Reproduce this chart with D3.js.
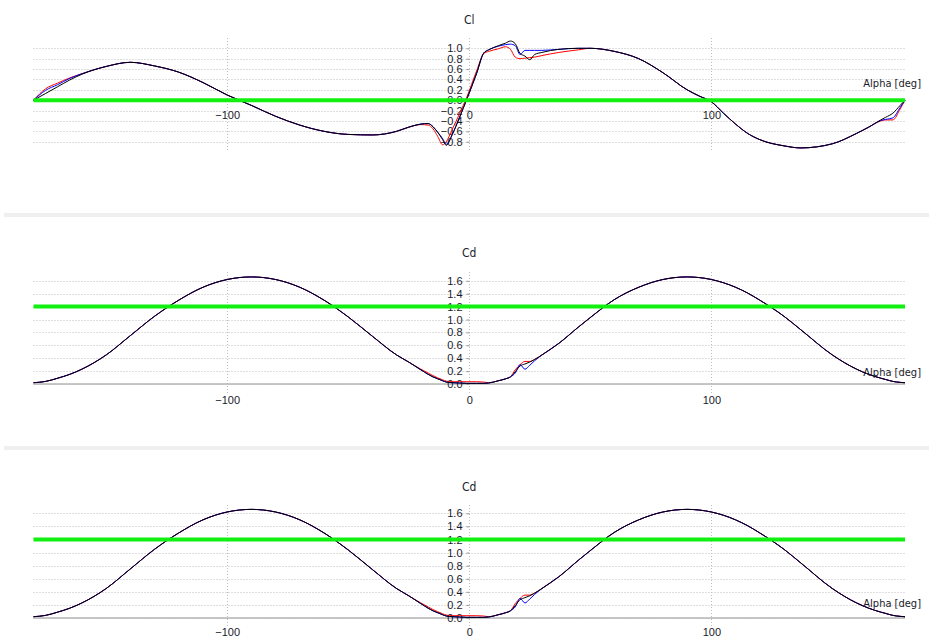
<!DOCTYPE html>
<html>
<head>
<meta charset="utf-8">
<script src="https://cdn.jsdelivr.net/npm/d3@7"></script>
<style>
    body { margin: 0; background: #fff; }
    svg { display: block; font-family: 'Liberation Sans Narrow', 'DejaVu Sans Condensed', 'Liberation Sans', sans-serif; }
</style>
</head>
<body>
<div id="d3-container"></div>
<script>
// angle of attack, deg
const alpha = [-180, -175, -170, -165, -160, -150, -140, -130, -120, -110,
    -100, -90, -80, -70, -60, -50, -40, -30, -25, -20,
    -17, -15, -13, -11, -9.5, -7, -4, -1, 3, 6,
    8, 12, 15, 17, 19, 21, 23, 25, 27, 30,
    37, 45, 50, 60, 70, 80, 90, 95, 100, 105,
    110, 115, 120, 130, 137, 150, 160, 165, 170, 172,
    175, 178, 180];

const clBlack = [0, 0.13, 0.26, 0.39, 0.50, 0.65, 0.73, 0.66, 0.54, 0.34,
    0.10, -0.10, -0.31, -0.48, -0.60, -0.66, -0.67, -0.60, -0.52, -0.46,
    -0.45, -0.51, -0.62, -0.76, -0.87, -0.66, -0.33, 0.02, 0.51, 0.91,
    0.97, 1.05, 1.10, 1.14, 1.09, 0.90, 0.85, 0.78, 0.88, 0.92,
    0.98, 1.00, 1.00, 0.94, 0.80, 0.53, 0.20, 0.08, -0.03, -0.25,
    -0.46, -0.64, -0.76, -0.88, -0.92, -0.84, -0.64, -0.52, -0.38, -0.33,
    -0.25, -0.10, 0];
const clRed = [0, 0.22, 0.33, 0.43, 0.51, 0.65, 0.73, 0.66, 0.54, 0.34,
    0.10, -0.10, -0.31, -0.48, -0.60, -0.66, -0.67, -0.60, -0.52, -0.47,
    -0.48, -0.55, -0.70, -0.86, -0.80, -0.56, -0.26, 0.06, 0.56, 0.90,
    0.94, 0.99, 1.03, 0.98, 0.83, 0.80, 0.81, 0.82, 0.83, 0.86,
    0.92, 0.97, 1.00, 0.94, 0.80, 0.53, 0.20, 0.08, -0.03, -0.25,
    -0.46, -0.64, -0.76, -0.88, -0.92, -0.84, -0.64, -0.52, -0.40, -0.38,
    -0.38, -0.17, 0];
const clBlue = [0, 0.19, 0.30, 0.42, 0.51, 0.65, 0.73, 0.66, 0.54, 0.34,
    0.10, -0.10, -0.31, -0.48, -0.60, -0.66, -0.67, -0.60, -0.52, -0.46,
    -0.45, -0.51, -0.62, -0.74, -0.85, -0.66, -0.33, 0.02, 0.51, 0.91,
    0.97, 1.04, 1.07, 1.08, 1.05, 0.88, 0.96, 0.96, 0.96, 0.96,
    0.98, 1.00, 1.00, 0.94, 0.80, 0.53, 0.20, 0.08, -0.03, -0.25,
    -0.46, -0.64, -0.76, -0.88, -0.92, -0.84, -0.64, -0.52, -0.39, -0.37,
    -0.34, -0.14, 0];

const cdBlack = [0.02, 0.04, 0.09, 0.15, 0.23, 0.45, 0.75, 1.05, 1.30, 1.50,
    1.62, 1.66, 1.62, 1.50, 1.30, 1.04, 0.74, 0.45, 0.34, 0.22,
    0.15, 0.11, 0.08, 0.05, 0.03, 0.02, 0.015, 0.01, 0.01, 0.01,
    0.015, 0.05, 0.08, 0.11, 0.19, 0.28, 0.31, 0.34, 0.38, 0.45,
    0.63, 0.88, 1.03, 1.31, 1.50, 1.62, 1.66, 1.65, 1.62, 1.57,
    1.50, 1.41, 1.30, 1.05, 0.84, 0.45, 0.23, 0.15, 0.09, 0.07,
    0.04, 0.025, 0.02];
const cdRed = [0.02, 0.04, 0.09, 0.15, 0.23, 0.45, 0.75, 1.05, 1.30, 1.50,
    1.62, 1.66, 1.62, 1.50, 1.30, 1.04, 0.74, 0.45, 0.34, 0.23,
    0.17, 0.13, 0.095, 0.065, 0.045, 0.035, 0.035, 0.035, 0.035, 0.03,
    0.02, 0.05, 0.08, 0.11, 0.22, 0.30, 0.35, 0.35, 0.38, 0.45,
    0.63, 0.88, 1.03, 1.31, 1.50, 1.62, 1.66, 1.65, 1.62, 1.57,
    1.50, 1.41, 1.30, 1.05, 0.84, 0.45, 0.23, 0.15, 0.09, 0.07,
    0.04, 0.025, 0.02];
const cdBlue = [0.02, 0.04, 0.09, 0.15, 0.23, 0.45, 0.75, 1.05, 1.30, 1.50,
    1.62, 1.66, 1.62, 1.50, 1.30, 1.04, 0.74, 0.45, 0.34, 0.22,
    0.15, 0.11, 0.08, 0.05, 0.03, 0.02, 0.015, 0.01, 0.01, 0.01,
    0.015, 0.05, 0.08, 0.11, 0.17, 0.30, 0.23, 0.29, 0.36, 0.45,
    0.63, 0.88, 1.03, 1.31, 1.50, 1.62, 1.66, 1.65, 1.62, 1.57,
    1.50, 1.41, 1.30, 1.05, 0.84, 0.45, 0.23, 0.15, 0.09, 0.07,
    0.04, 0.025, 0.02];

const clTicks = [-0.8, -0.6, -0.4, -0.2, 0, 0.2, 0.4, 0.6, 0.8, 1.0];
const cdTicks = [0, 0.2, 0.4, 0.6, 0.8, 1.0, 1.2, 1.4, 1.6];
const alphaTicks = [-100, 0, 100];
const colors = ['#ff0000', '#0000ff', '#000000'];

const width = 929;
const height = 639;

const svg = d3.select('#d3-container')
    .append('svg')
    .attr('width', width)
    .attr('height', height);

const x = d3.scaleLinear()
    .domain([-180, 180])
    .range([33.5, 905]);

const panels = [
    { title: 'Cl', series: [clRed, clBlue, clBlack], ticks: clTicks, marker: 0,
      y: d3.scaleLinear().domain([-0.8, 1.0]).range([141.7, 48.3]),
      titleY: 20, labelY: 115, alphaY: 83, top: 38, bottom: 150 },
    { title: 'Cd', series: [cdRed, cdBlue, cdBlack], ticks: cdTicks, marker: 1.2,
      y: d3.scaleLinear().domain([0, 1.6]).range([384, 280.8]),
      titleY: 253, labelY: 400, alphaY: 372, top: 272, bottom: 394 },
    { title: 'Cd', series: [cdRed, cdBlue, cdBlack], ticks: cdTicks, marker: 1.2,
      y: d3.scaleLinear().domain([0, 1.6]).range([618, 513.3]),
      titleY: 487, labelY: 632, alphaY: 603, top: 505, bottom: 627 }
];

// grey bars between the three views
[213, 446].forEach(yy => {
    svg.append('rect')
        .attr('x', 4)
        .attr('y', yy)
        .attr('width', width - 4)
        .attr('height', 4)
        .attr('fill', '#efefef');
});

panels.forEach(p => {
    const g = svg.append('g');
    const y = p.y;

    g.selectAll('.hgrid')
        .data(p.ticks)
        .enter()
        .append('line')
        .attr('x1', x.range()[0])
        .attr('x2', x.range()[1])
        .attr('y1', d => Math.round(y(d)) + 0.5)
        .attr('y2', d => Math.round(y(d)) + 0.5)
        .attr('stroke', '#bdbdbd')
        .attr('stroke-dasharray', '1,2');

    g.selectAll('.vgrid')
        .data(alphaTicks)
        .enter()
        .append('line')
        .attr('x1', d => Math.round(x(d)) + 0.5)
        .attr('x2', d => Math.round(x(d)) + 0.5)
        .attr('y1', p.top)
        .attr('y2', p.bottom)
        .attr('stroke', '#bdbdbd')
        .attr('stroke-dasharray', '1,2');

    // x axis line
    g.append('line')
        .attr('x1', x.range()[0])
        .attr('x2', x.range()[1])
        .attr('y1', y(0))
        .attr('y2', y(0))
        .attr('stroke', '#b4b4b4')
        .attr('stroke-width', 1.5);

    const yAxis = g.append('g')
        .attr('transform', `translate(${Math.round(x(0)) + 0.5}, 0)`)
        .call(d3.axisLeft(y).tickValues(p.ticks).tickFormat(d3.format('.1f')).tickSize(3).tickPadding(4));
    yAxis.select('.domain').remove();
    yAxis.selectAll('line').attr('stroke', '#999');
    yAxis.selectAll('text').attr('fill', '#1a1a2a').style('font-size', '11px');

    const xAxis = g.append('g')
        .attr('transform', `translate(0, ${p.labelY - 4})`)
        .call(d3.axisBottom(x).tickValues(alphaTicks).tickSize(0).tickPadding(0));
    xAxis.select('.domain').remove();
    xAxis.selectAll('text').attr('fill', '#1a1a2a').style('font-size', '11px');

    const line = d3.line()
        .x((d, i) => x(alpha[i]))
        .y(d => y(d))
        .curve(d3.curveMonotoneX);

    p.series.forEach((s, k) => {
        g.append('path')
            .datum(s)
            .attr('d', line)
            .attr('fill', 'none')
            .attr('stroke', colors[k])
            .attr('stroke-width', 1);
    });

    g.append('line')
        .attr('x1', x.range()[0])
        .attr('x2', x.range()[1])
        .attr('y1', y(p.marker))
        .attr('y2', y(p.marker))
        .attr('stroke', '#11f011')
        .attr('stroke-width', 4);

    g.append('text')
        .attr('x', x(0))
        .attr('y', p.titleY + 4)
        .attr('text-anchor', 'middle')
        .attr('fill', '#1a1a2a')
        .style('font-size', '12px')
        .text(p.title);

    g.append('text')
        .attr('x', 921)
        .attr('y', p.alphaY + 4)
        .attr('text-anchor', 'end')
        .attr('fill', '#1a1a2a')
        .style('font-size', '11px')
        .text('Alpha [deg]');
});
</script>
</body>
</html>
